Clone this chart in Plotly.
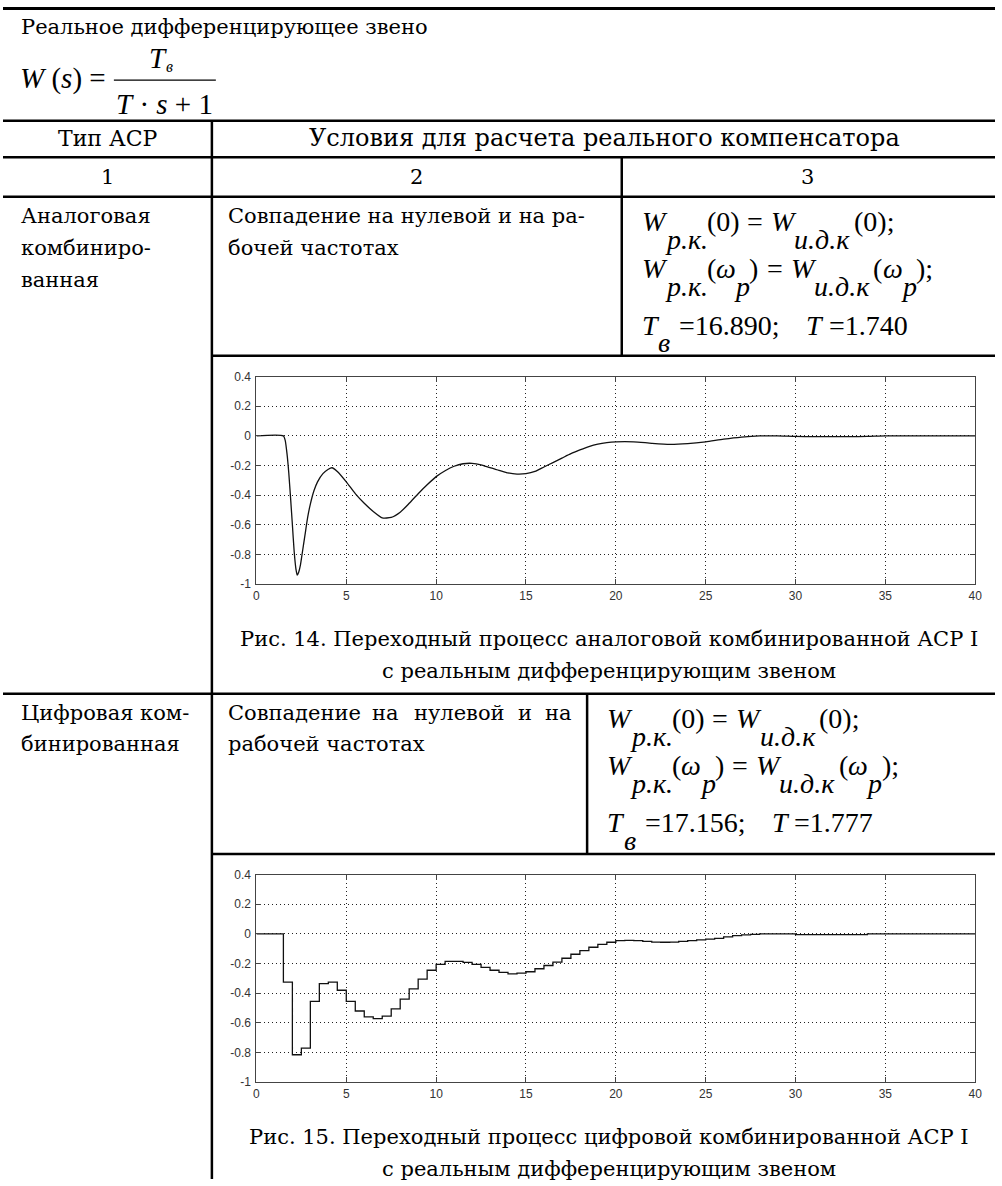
import plotly.graph_objects as go

FIG_W, FIG_H = 1002, 1186

# ---------------- data ----------------
analog_t = [0, 1.5, 1.6, 1.7, 1.8, 1.9, 2.0, 2.1, 2.2, 2.27, 2.35, 2.45, 2.55, 2.7, 2.85,
            3.0, 3.2, 3.4, 3.7, 4.0, 4.2, 4.5, 5.0, 5.5, 6.0, 6.5, 7.0, 7.5, 8.0, 8.5,
            9.0, 9.5, 10.0, 10.5, 11.0, 11.5, 12.0, 12.5, 13.0, 13.5, 14.0, 14.5, 15.0,
            15.5, 16.0, 16.5, 17.0, 17.5, 18.0, 18.5, 19.0, 19.5, 20.0, 21, 22, 23, 24,
            25, 26, 27, 28, 29, 30, 31, 32, 33, 34, 35, 40]
analog_y = [0, 0, -0.03, -0.12, -0.25, -0.42, -0.6, -0.78, -0.9, -0.94, -0.92, -0.87, -0.79,
            -0.67, -0.55, -0.46, -0.37, -0.31, -0.255, -0.225, -0.215, -0.24, -0.31, -0.39,
            -0.455, -0.51, -0.553, -0.55, -0.515, -0.455, -0.39, -0.33, -0.275, -0.235,
            -0.205, -0.188, -0.185, -0.195, -0.215, -0.232, -0.25, -0.258, -0.255, -0.24,
            -0.21, -0.18, -0.15, -0.12, -0.095, -0.072, -0.055, -0.045, -0.04, -0.04,
            -0.05, -0.057, -0.052, -0.04, -0.022, -0.008, 0, 0, -0.004, -0.005, -0.005,
            -0.005, -0.004, 0, 0]

digital_t = [0, 0.5, 1, 1.5, 2, 2.5, 3, 3.5, 4, 4.5, 5, 5.5, 6, 6.5, 7, 7.5, 8, 8.5, 9, 9.5,
             10, 10.5, 11, 11.5, 12, 12.5, 13, 13.5, 14, 14.5, 15, 15.5, 16, 16.5, 17, 17.5,
             18, 18.5, 19, 19.5, 20, 20.5, 21, 21.5, 22, 22.5, 23, 23.5, 24, 24.5, 25, 25.5,
             26, 26.5, 27, 27.5, 28, 28.5, 29, 29.5, 30, 30.5, 31, 31.5, 32, 32.5, 33, 33.5,
             34, 34.5, 35, 35.5, 36, 36.5, 37, 37.5, 38, 38.5, 39, 39.5, 40]
digital_y = [0, 0, 0, -0.325, -0.815, -0.77, -0.455, -0.335, -0.325, -0.38,
             -0.455, -0.52, -0.56, -0.572, -0.555, -0.505, -0.44, -0.37, -0.305, -0.245,
             -0.205, -0.185, -0.185, -0.192, -0.205, -0.225, -0.245, -0.26, -0.27, -0.265,
             -0.255, -0.235, -0.213, -0.19, -0.164, -0.137, -0.113, -0.09, -0.07, -0.056,
             -0.045, -0.043, -0.045, -0.05, -0.055, -0.056, -0.055, -0.05, -0.045, -0.04,
             -0.035, -0.03, -0.02, -0.012, -0.006, -0.003, 0, 0, 0, 0,
             -0.005, -0.005, -0.005, -0.005, -0.005, -0.005, -0.005, -0.005, 0, 0,
             0, 0, 0, 0, 0, 0, 0, 0, 0, 0,
             0]

x_tick_vals = [0, 5, 10, 15, 20, 25, 30, 35, 40]
x_tick_text = ["0", "5", "10", "15", "20", "25", "30", "35", "40"]
y_tick_vals = [0.4, 0.2, 0, -0.2, -0.4, -0.6, -0.8, -1]
y_tick_text = ["0.4", "0.2", "0", "-0.2", "-0.4", "-0.6", "-0.8", "-1"]

title_text = "Реальное дифференцирующее звено"
header_col1 = "Тип АСР"
header_col23 = "Условия для расчета реального компенсатора"
col_numbers = ["1", "2", "3"]
row1_type = ["Аналоговая", "комбиниро-", "ванная"]
row1_cond = ["Совпадение на нулевой и на ра-", "бочей частотах"]
row2_type = ["Цифровая ком-", "бинированная"]
row2_cond_words = ["Совпадение", "на", "нулевой", "и", "на"]
row2_cond_line2 = "рабочей частотах"
row1_params = ("16.890", "1.740")
row2_params = ("17.156", "1.777")
caption1 = ["Рис. 14. Переходный процесс аналоговой комбинированной АСР I",
            "с реальным дифференцирующим звеном"]
caption2 = ["Рис. 15. Переходный процесс цифровой комбинированной АСР I",
            "с реальным дифференцирующим звеном"]

# ---------------- helpers ----------------
def fx(p):
    return p / FIG_W

def fy(p):
    return 1 - p / FIG_H

SERIF = "DejaVu Serif"
MATH = "Liberation Serif"
INK = "#000000"

annotations = []
shapes = []

def add_text(x, y, text, size=21, xanchor="left", family=SERIF, color=INK):
    annotations.append(dict(x=fx(x), y=fy(y), xref="paper", yref="paper", text=text,
                            showarrow=False, xanchor=xanchor, yanchor="middle",
                            borderpad=0, borderwidth=0,
                            font=dict(family=family, size=size, color=color)))

# Times / Liberation Serif advance widths (em)
REG_W = {" ": 0.25, "(": 0.333, ")": 0.333, ".": 0.25, ";": 0.278, "=": 0.564, "+": 0.564}
IT_W = {"W": 0.833, "T": 0.556, "s": 0.389, "p": 0.5, "ω": 0.667, "р": 0.5, "к": 0.46,
        ".": 0.25, "и": 0.54, "д": 0.54, "в": 0.5}

def width(text, italic):
    tbl = IT_W if italic else REG_W
    return sum(tbl.get(c, 0.5) for c in text)

def add_formula(x, y, pieces, size=28, sub_dy=18):
    # pieces: (text, italic, is_sub, gap_before_em)
    cx = x
    for text, italic, is_sub, gap in pieces:
        cx += gap * size
        html = "<i>%s</i>" % text if italic else text
        add_text(cx, y + (sub_dy if is_sub else 0), html, size, family=MATH)
        cx += width(text, italic) * size

def hline(y, x0, x1, w=2.5):
    shapes.append(dict(type="line", xref="paper", yref="paper", x0=fx(x0), x1=fx(x1),
                       y0=fy(y), y1=fy(y), line=dict(color="black", width=w)))

def vline(x, y0, y1, w=2.5):
    shapes.append(dict(type="line", xref="paper", yref="paper", x0=fx(x), x1=fx(x),
                       y0=fy(y0), y1=fy(y1), line=dict(color="black", width=w)))

# ---------------- table lines ----------------
hline(1.5, 0, 1002, 3)
hline(115, 0, 1002)
hline(152, 0, 1002)
hline(192, 0, 1002)
hline(353, 211, 1002)
hline(695, 0, 1002)
hline(857, 211, 1002)
vline(211, 115, 1186)
vline(625, 152, 353)
vline(590, 695, 857)

# ---------------- header texts ----------------
add_text(18, 20, title_text)
add_text(17, 72, "<i>W</i> (<i>s</i>) =", size=29, family=MATH)
add_text(147, 52, "<i>T</i>", size=29, family=MATH)
add_text(165, 60, "<i>в</i>", size=16, family=MATH)
hline(74, 112, 215, 1.2)
add_text(163, 98, "<i>T</i> · <i>s</i> + 1", size=29, xanchor="center", family=MATH)

add_text(105.5, 133, header_col1, size=22, xanchor="center")
add_text(608, 133, header_col23, size=24, xanchor="center")
add_text(105.5, 172, col_numbers[0], xanchor="center")
add_text(418, 172, col_numbers[1], xanchor="center")
add_text(813, 172, col_numbers[2], xanchor="center")

# row 1
for i, t in enumerate(row1_type):
    add_text(18, 212 + 32 * i, t)
for i, t in enumerate(row1_cond):
    add_text(227, 212 + 32 * i, t)

def formulas(x, y0, params):
    f1 = [("W", True, False, 0), ("р.к.", True, True, 0), ("(0)", False, False, 0.05),
          ("=", False, False, 0.3), ("W", True, False, 0.3),
          ("и.д.к", True, True, 0), ("(0);", False, False, 0.1)]
    f2 = [("W", True, False, 0), ("р.к.", True, True, 0), ("(", False, False, 0.05),
          ("ω", True, False, 0), ("p", True, True, 0), (")", False, False, 0.05),
          ("=", False, False, 0.3), ("W", True, False, 0.3), ("и.д.к", True, True, 0),
          ("(", False, False, 0.1), ("ω", True, False, 0), ("p", True, True, 0),
          (");", False, False, 0.05)]
    f3 = [("T", True, False, 0), ("в", True, True, 0.05),
          ("=" + params[0] + ";", False, False, 0.25), ("T", True, False, 1.0),
          ("=" + params[1], False, False, 0.25)]
    add_formula(x, y0, f1)
    add_formula(x, y0 + 48, f2)
    add_formula(x, y0 + 105, f3)

formulas(645, 217, row1_params)

# captions
add_text(612, 640, caption1[0], xanchor="center")
add_text(612, 672, caption1[1], xanchor="center")

# row 2
for i, t in enumerate(row2_type):
    add_text(18, 714 + 32 * i, t)
for xw, w in zip([227, 373, 415, 520, 547], row2_cond_words):
    add_text(xw, 714, w)
add_text(227, 746, row2_cond_line2)
formulas(610, 720, row2_params)

add_text(612, 1144, caption2[0], xanchor="center")
add_text(612, 1176, caption2[1], xanchor="center")

# ---------------- charts ----------------
fig = go.Figure()
fig.add_trace(go.Scatter(x=analog_t, y=analog_y, mode="lines", xaxis="x", yaxis="y",
                         line=dict(color="#111", width=1.3, shape="spline", smoothing=0.6),
                         showlegend=False, hoverinfo="skip"))
fig.add_trace(go.Scatter(x=digital_t, y=digital_y, mode="lines", xaxis="x2", yaxis="y2",
                         line=dict(color="#111", width=1.3, shape="hv"),
                         showlegend=False, hoverinfo="skip"))

common = dict(showline=True, linecolor="#444", linewidth=1, mirror="ticks", ticks="inside",
              ticklen=5, tickcolor="#444", tickwidth=1, showgrid=True, gridcolor="#222",
              griddash="1px,3px", gridwidth=1, zeroline=False, fixedrange=True,
              tickfont=dict(family="Liberation Sans", size=12, color="#333"))
xcommon = dict(common, range=[0, 40], tickmode="array", tickvals=x_tick_vals,
               ticktext=x_tick_text)
ycommon = dict(common, range=[-1, 0.4], tickmode="array", tickvals=y_tick_vals,
               ticktext=y_tick_text, ticklabelstandoff=2)

fig.update_layout(
    width=FIG_W, height=FIG_H, margin=dict(l=0, r=0, t=0, b=0),
    paper_bgcolor="white", plot_bgcolor="white", showlegend=False,
    xaxis=dict(xcommon, domain=[fx(256), fx(982)], anchor="y"),
    yaxis=dict(ycommon, domain=[fy(584), fy(374)], anchor="x"),
    xaxis2=dict(xcommon, domain=[fx(256), fx(982)], anchor="y2"),
    yaxis2=dict(ycommon, domain=[fy(1088), fy(878)], anchor="x2"),
    annotations=annotations, shapes=shapes,
)

fig.write_html("out.html")
